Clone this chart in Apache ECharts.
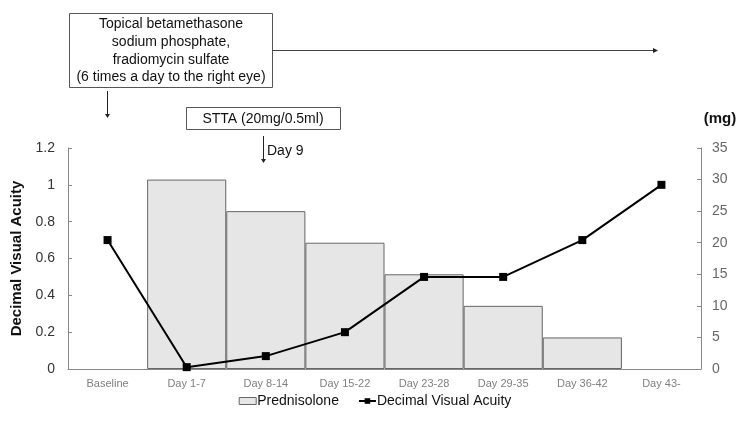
<!DOCTYPE html>
<html>
<head>
<meta charset="utf-8">
<script src="https://cdn.jsdelivr.net/npm/echarts@6/dist/echarts.min.js"></script>
<style>html,body{margin:0;padding:0;background:#fff}#c{width:750px;height:422px}</style>
</head>
<body>
<div id="c"></div>
<script>
var categories = ['Baseline','Day 1-7','Day 8-14','Day 15-22','Day 23-28','Day 29-35','Day 36-42','Day 43-'];
var prednisolone = [null, 30, 25, 20, 15, 10, 5, null];
var acuity = [0.7, 0.01, 0.07, 0.2, 0.5, 0.5, 0.7, 1.0];
var leftTicks = {min: 0, max: 1.2, interval: 0.2};
var rightTicks = {min: 0, max: 35, interval: 5};

var FONT = 'Liberation Sans, Arial, sans-serif';
var chart = echarts.init(document.getElementById('c'));
function arrowDown(x, y1, y2) {
  return [
    {type:'line', shape:{x1:x, y1:y1, x2:x, y2:y2-3}, style:{stroke:'#222', lineWidth:1}},
    {type:'polygon', shape:{points:[[x-2.5,y2-4],[x+2.5,y2-4],[x,y2]]}, style:{fill:'#222'}}
  ];
}
var graphics = [
  {type:'rect', shape:{x:69.5, y:13.5, width:203, height:74}, style:{fill:'#fff', stroke:'#555', lineWidth:1}},
  {type:'text', x:171, y:51, style:{text:'Topical betamethasone\nsodium phosphate,\nfradiomycin sulfate\n(6 times a day to the right eye)', font:'14px '+FONT, fill:'#111', align:'center', verticalAlign:'middle', lineHeight:17.7}},
  {type:'line', shape:{x1:272, y1:50.5, x2:654, y2:50.5}, style:{stroke:'#444', lineWidth:1}},
  {type:'polygon', shape:{points:[[653,48],[653,53],[658,50.5]]}, style:{fill:'#222'}},
  {type:'rect', shape:{x:186.5, y:107.5, width:154, height:22}, style:{fill:'#fff', stroke:'#555', lineWidth:1}},
  {type:'text', x:263, y:119, style:{text:'STTA (20mg/0.5ml)', font:'14px '+FONT, fill:'#111', align:'center', verticalAlign:'middle'}},
  {type:'text', x:267, y:151, style:{text:'Day 9', font:'14px '+FONT, fill:'#111', align:'left', verticalAlign:'middle'}},
  {type:'text', x:720, y:119, style:{text:'(mg)', font:'bold 15px '+FONT, fill:'#111', align:'center', verticalAlign:'middle'}}
].concat(arrowDown(107.5, 91, 118)).concat(arrowDown(263.5, 136, 163));

chart.setOption({
  animation: false,
  textStyle: {fontFamily: FONT},
  grid: {left: 68, right: 49, top: 148, bottom: 53},
  legend: {
    bottom: 9, left: 'center', itemGap: 19,
    textStyle: {fontSize: 14, color: '#111', fontFamily: FONT, padding: [0, 0, 0, -4]},
    data: [
      {name: 'Prednisolone', icon: 'rect', itemStyle: {color:'#e6e6e6', borderColor:'#666', borderWidth:1}},
      {name: 'Decimal Visual Acuity'}
    ],
    itemWidth: 17, itemHeight: 7
  },
  xAxis: {
    type: 'category', data: categories,
    axisLine: {lineStyle: {color: '#888'}},
    axisTick: {show: false},
    axisLabel: {color: '#7f7f7f', fontSize: 11, margin: 9}
  },
  yAxis: [
    {
      type: 'value', min: leftTicks.min, max: leftTicks.max, interval: leftTicks.interval,
      name: 'Decimal Visual Acuity', nameLocation: 'middle', nameGap: 40, nameRotate: 90,
      nameTextStyle: {fontSize: 15, fontWeight: 'bold', color: '#111'},
      axisLine: {show: true, lineStyle: {color: '#888'}},
      axisTick: {show: true, inside: true, length: 4, lineStyle: {color: '#888'}},
      splitLine: {show: false},
      axisLabel: {color: '#333', fontSize: 14, margin: 13}
    },
    {
      type: 'value', min: rightTicks.min, max: rightTicks.max, interval: rightTicks.interval,
      position: 'right',
      axisLine: {show: true, lineStyle: {color: '#888'}},
      axisTick: {show: true, inside: true, length: 4, lineStyle: {color: '#888'}},
      splitLine: {show: false},
      axisLabel: {color: '#666', fontSize: 14, margin: 11}
    }
  ],
  series: [
    {
      name: 'Prednisolone', type: 'bar', yAxisIndex: 1, data: prednisolone,
      barWidth: '100%',
      itemStyle: {color: '#e6e6e6', borderColor: '#666', borderWidth: 1}
    },
    {
      name: 'Decimal Visual Acuity', type: 'line', yAxisIndex: 0, data: acuity,
      symbol: 'rect', symbolSize: 8,
      lineStyle: {color: '#000', width: 2},
      itemStyle: {color: '#000'}
    }
  ],
  graphic: graphics
});
</script>
</body>
</html>
